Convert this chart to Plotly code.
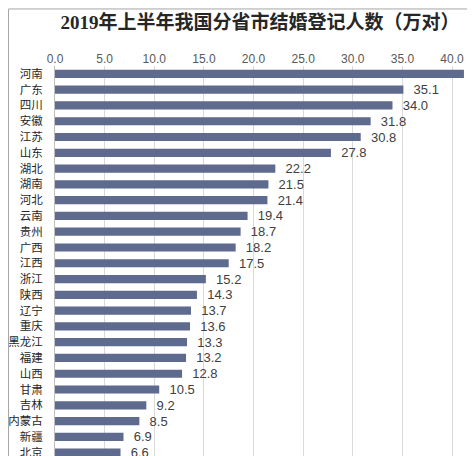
import plotly.graph_objects as go

# 2019年上半年分省市结婚登记（万对），图底部被截断，只到北京
provinces = ["河南", "广东", "四川", "安徽", "江苏", "山东", "湖北", "湖南", "河北",
             "云南", "贵州", "广西", "江西", "浙江", "陕西", "辽宁", "重庆", "黑龙江",
             "福建", "山西", "甘肃", "吉林", "内蒙古", "新疆", "北京"]
pairs = [41.2, 35.1, 34.0, 31.8, 30.8, 27.8, 22.2, 21.5, 21.4,
         19.4, 18.7, 18.2, 17.5, 15.2, 14.3, 13.7, 13.6, 13.3,
         13.2, 12.8, 10.5, 9.2, 8.5, 6.9, 6.6]
x_ticks = [0, 5, 10, 15, 20, 25, 30, 35, 40]

BAR = "#5e6a8e"
SANS = "Liberation Sans, Noto Sans CJK SC"

fig = go.Figure(go.Bar(
    x=pairs, y=provinces, orientation="h",
    marker=dict(color=BAR, line_width=0),
    text=pairs, texttemplate="  %{x:.1f}", textposition="outside",
    textfont=dict(family="Liberation Sans", size=13, color="#404040"),
    constraintext="none", cliponaxis=True,
    hovertemplate="%{y}: %{x:.1f}<extra></extra>",
))

# 页面有 8px 边距，边距与范围按此补偿
fig.update_xaxes(side="top", range=[0, 43.12], tickvals=x_ticks,
                 ticktext=[f"{v:.1f}" for v in x_ticks],
                 tickfont=dict(family="Liberation Sans", size=12, color="#595959"),
                 showgrid=True, gridcolor="#d9d9d9", gridwidth=1,
                 zeroline=False, showline=False, ticks="", automargin=False)
fig.update_yaxes(categoryorder="array", categoryarray=provinces,
                 tickmode="array", tickvals=provinces,
                 range=[24.72, -0.5], showgrid=False,
                 showline=True, linecolor="#bfbfbf", linewidth=1,
                 tickfont=dict(family="Noto Sans CJK SC", size=11.5, color="#262626"),
                 ticks="", ticklabelstandoff=9, automargin=False)

fig.update_layout(
    width=475, height=456, bargap=0.48,
    margin=dict(l=47, r=0, t=57.6, b=0, autoexpand=False),
    plot_bgcolor="white", paper_bgcolor="white", showlegend=False,
    title=dict(text="<b>2019年上半年我国分省市结婚登记人数（万对）</b>",
               xref="container", x=0.5305, xanchor="center",
               yref="container", y=0.969, yanchor="middle",
               font=dict(family="Liberation Serif, Noto Sans CJK SC", size=19, color="#262626")),
    font=dict(family=SANS),
)

# 外框（左、上边可见）
fig.add_shape(type="rect", xref="paper", yref="paper",
              x0=-0.1086, x1=1.2, y0=-0.2, y1=1.1433,
              line=dict(color="#a6a6a6", width=1), layer="above")

fig.write_html("out.html")
